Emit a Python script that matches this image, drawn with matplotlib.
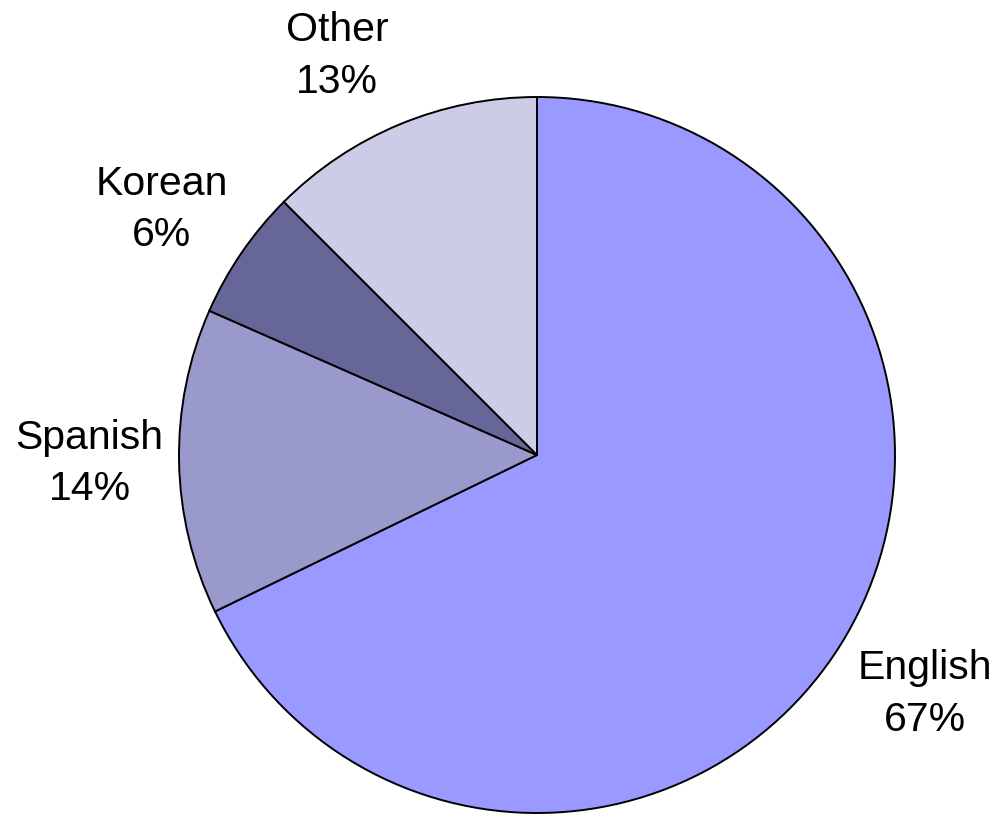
import matplotlib
matplotlib.use("Agg")
import matplotlib.pyplot as plt

languages = ["English", "Spanish", "Korean", "Other"]
shares = [67.8, 13.8, 5.9, 12.5]          # wedge sizes
shown_pct = [67, 14, 6, 13]               # percentages as printed on the chart
colors = ["#9999FF", "#9999CC", "#666699", "#CCCCE6"]

plt.rcParams["font.family"] = ["Liberation Sans", "DejaVu Sans"]

fig = plt.figure(figsize=(9.98, 8.14), dpi=100)
W, H = 998, 814
cx, cy, r = 537, 455, 358
ax = fig.add_axes([(cx - r) / W, (H - cy - r) / H, 2 * r / W, 2 * r / H])

labels = [f"{name}\n{p}%" for name, p in zip(languages, shown_pct)]
wedges, texts = ax.pie(
    shares,
    labels=labels,
    colors=colors,
    startangle=90,
    counterclock=False,
    labeldistance=1.25,
    wedgeprops=dict(edgecolor="black", linewidth=1.4),
    textprops=dict(fontsize=29.5, color="black"),
)
for t in texts:
    t.set_ha("center")
    t.set_va("center")
    t.set_multialignment("center")
    t.set_linespacing(1.45)

# small label nudges so they sit where the original puts them
nudges = [(0.025, -0.005), (0.0, 0.0), (-0.017, -0.02), (-0.08, -0.04)]
for t, (dx, dy) in zip(texts, nudges):
    x, y = t.get_position()
    t.set_position((x + dx, y + dy))

ax.set_xlim(-1, 1)
ax.set_ylim(-1, 1)
ax.set_aspect("equal")
ax.axis("off")

fig.savefig("out.png", dpi=100)
